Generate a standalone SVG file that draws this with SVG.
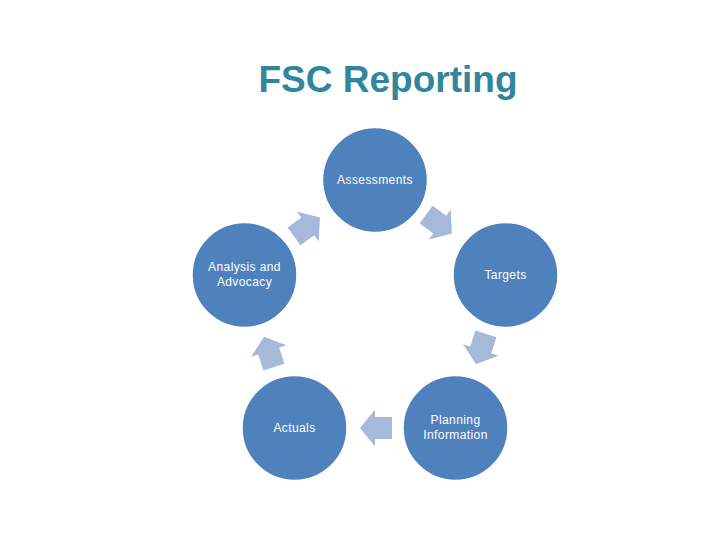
<svg xmlns="http://www.w3.org/2000/svg" width="720" height="540" viewBox="0 0 720 540">
<defs>
<style>
.node{fill:#4F81BD;stroke:#FFFFFF;stroke-width:1.5}
.lbl{fill:#FFFFFF;font-family:"Liberation Sans",Arial,sans-serif;font-size:12px;text-anchor:middle;letter-spacing:0.4px}
.arr{fill:#A7B9D9}
.title{fill:#31859C;font-family:"Liberation Sans",Arial,sans-serif;font-weight:bold;font-size:37px;text-anchor:middle}
</style>
<path id="ar" d="M-16,-11 L1,-11 L1,-18.5 L16,0 L1,18.5 L1,11 L-16,11 Z"/>
</defs>
<rect width="720" height="540" fill="#FFFFFF"/>
<text class="title" x="388" y="92">FSC Reporting</text>
<g id="connectors">
<use href="#ar" class="arr" transform="translate(307,227) rotate(-36)"/>
<use href="#ar" class="arr" transform="translate(439,224) rotate(36)"/>
<use href="#ar" class="arr" transform="translate(481,349) rotate(108)"/>
<use href="#ar" class="arr" transform="translate(376,428) rotate(180)"/>
<use href="#ar" class="arr" transform="translate(269,352) rotate(-108)"/>
</g>
<g id="assessments">
<circle class="node" cx="375" cy="180" r="52.5"/>
<text class="lbl" x="375" y="184">Assessments</text>
</g>
<g id="targets">
<circle class="node" cx="505.5" cy="275" r="52.5"/>
<text class="lbl" x="505.5" y="279">Targets</text>
</g>
<g id="planning">
<circle class="node" cx="455.5" cy="428" r="52.5"/>
<text class="lbl" x="455.5" y="424">Planning</text>
<text class="lbl" x="455.5" y="439">Information</text>
</g>
<g id="actuals">
<circle class="node" cx="294.5" cy="428" r="52.5"/>
<text class="lbl" x="294.5" y="432">Actuals</text>
</g>
<g id="analysis">
<circle class="node" cx="244.5" cy="275" r="52.5"/>
<text class="lbl" x="244.5" y="271">Analysis and</text>
<text class="lbl" x="244.5" y="286">Advocacy</text>
</g>
</svg>
